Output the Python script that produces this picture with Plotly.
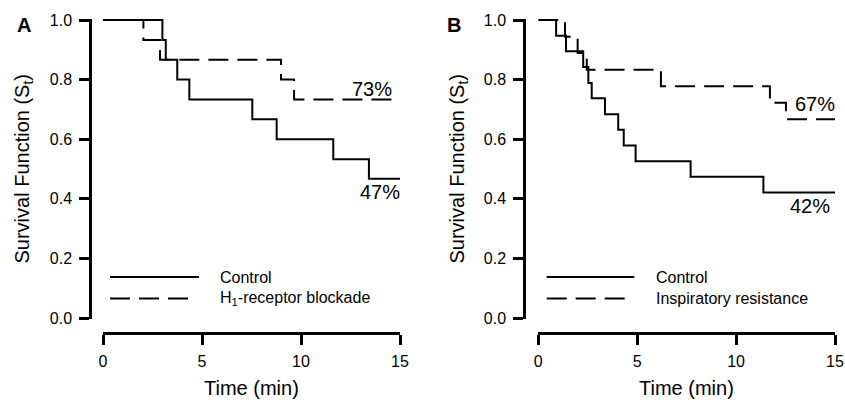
import plotly.graph_objects as go

# ---- data ----
a_ctrl_t = [0, 3.0, 3.17, 3.75, 4.36, 7.54, 8.77, 11.63, 13.43, 15]
a_ctrl_s = [1.0, 0.933, 0.867, 0.800, 0.733, 0.667, 0.600, 0.533, 0.467, 0.467]
a_h1_t = [0, 2.04, 2.88, 8.99, 9.65, 15]
a_h1_s = [1.0, 0.933, 0.867, 0.800, 0.733, 0.733]

b_ctrl_t = [0, 0.90, 1.40, 2.27, 2.53, 2.70, 3.37, 4.04, 4.32, 4.92, 7.70, 11.38, 15]
b_ctrl_s = [1.0, 0.947, 0.895, 0.842, 0.789, 0.737, 0.684, 0.632, 0.579, 0.526, 0.474, 0.421, 0.421]
b_ir_t = [0, 1.35, 1.99, 2.45, 6.20, 11.71, 12.52, 15]
b_ir_s = [1.0, 0.944, 0.889, 0.833, 0.778, 0.722, 0.667, 0.667]

x_ticks = [0, 5, 10, 15]
y_ticks = [0, 0.2, 0.4, 0.6, 0.8, 1.0]
x_title = "Time (min)"
y_title = "Survival Function (S<sub>t</sub>)"
legend_a = ["Control", "H<sub>1</sub>-receptor blockade"]
legend_b = ["Control", "Inspiratory resistance"]
pct_a = [("73%", 13.6, 0.770), ("47%", 13.99, 0.423)]
pct_b = [("67%", 13.99, 0.718), ("42%", 13.75, 0.376)]

W, H = 845, 400
FONT = "Liberation Sans, Arial, sans-serif"
DASH = "20px,9px"


def px(x):
    return x / W


def py(y):
    return 1 - y / H


fig = go.Figure()
fig.add_trace(go.Scatter(x=a_ctrl_t, y=a_ctrl_s, mode="lines", line=dict(shape="hv", color="black", width=2),
                         xaxis="x", yaxis="y", showlegend=False))
fig.add_trace(go.Scatter(x=a_h1_t, y=a_h1_s, mode="lines", line=dict(shape="hv", color="black", width=2, dash=DASH),
                         xaxis="x", yaxis="y", showlegend=False))
fig.add_trace(go.Scatter(x=b_ctrl_t, y=b_ctrl_s, mode="lines", line=dict(shape="hv", color="black", width=2),
                         xaxis="x2", yaxis="y2", showlegend=False))
fig.add_trace(go.Scatter(x=b_ir_t, y=b_ir_s, mode="lines", line=dict(shape="hv", color="black", width=2, dash=DASH),
                         xaxis="x2", yaxis="y2", showlegend=False))

PAD = 0.005
y_top_px, y_bot_px = 20, 318
scale = y_bot_px - y_top_px
ydom = [py(y_bot_px + PAD * scale), py(y_top_px - PAD * scale)]

axis_common = dict(showline=True, linewidth=2.5, linecolor="black", ticks="outside", ticklen=10, tickwidth=2.5,
                   tickcolor="black", showgrid=False, zeroline=False, automargin=False,
                   tickfont=dict(family=FONT, size=16, color="black"))

xa = dict(axis_common, range=[0, 15], tickvals=x_ticks, anchor="free", position=py(333),
          ticklabelstandoff=3)
ya = dict(axis_common, range=[-PAD, 1 + PAD], tickvals=y_ticks, tickformat=".1f", anchor="free", domain=ydom,
          ticklabelstandoff=4)

fig.update_layout(
    width=W, height=H, autosize=False,
    margin=dict(l=0, r=0, t=0, b=0),
    paper_bgcolor="white", plot_bgcolor="white",
    font=dict(family=FONT, color="black"),
    xaxis=dict(xa, domain=[px(103), px(400)]),
    yaxis=dict(ya, position=px(90)),
    xaxis2=dict(xa, domain=[px(538.3), px(835)]),
    yaxis2=dict(ya, position=px(524)),
)

# axis titles
for xc, yc in [(251.5, 388), (686.5, 388)]:
    fig.add_annotation(x=px(xc), y=py(yc), xref="paper", yref="paper", text=x_title, showarrow=False,
                       font=dict(family=FONT, size=20, color="black"), xanchor="center", yanchor="middle")
for xc in [23, 458]:
    fig.add_annotation(x=px(xc), y=py(168.5), xref="paper", yref="paper", text=y_title, showarrow=False,
                       textangle=-90, font=dict(family=FONT, size=20, color="black"),
                       xanchor="center", yanchor="middle")

# panel letters
fig.add_annotation(x=px(24), y=py(25), xref="paper", yref="paper", text="<b>A</b>", showarrow=False,
                   font=dict(family=FONT, size=20, color="black"), xanchor="center", yanchor="middle")
fig.add_annotation(x=px(453.5), y=py(25), xref="paper", yref="paper", text="<b>B</b>", showarrow=False,
                   font=dict(family=FONT, size=20, color="black"), xanchor="center", yanchor="middle")

# percentage labels
for (txt, x, y) in pct_a:
    fig.add_annotation(x=x, y=y, xref="x", yref="y", text=txt, showarrow=False,
                       font=dict(family=FONT, size=20, color="black"), xanchor="center", yanchor="middle")
for (txt, x, y) in pct_b:
    fig.add_annotation(x=x, y=y, xref="x2", yref="y2", text=txt, showarrow=False,
                       font=dict(family=FONT, size=20, color="black"), xanchor="center", yanchor="middle")


# custom legends
def add_legend(x0, x1s, x1d, xt, labels):
    fig.add_shape(type="line", xref="paper", yref="paper", x0=px(x0), x1=px(x1s), y0=py(277), y1=py(277),
                  line=dict(color="black", width=2))
    fig.add_shape(type="line", xref="paper", yref="paper", x0=px(x0), x1=px(x1d), y0=py(298.5), y1=py(298.5),
                  line=dict(color="black", width=2, dash=DASH))
    for lbl, yy in zip(labels, [277, 298.5]):
        fig.add_annotation(x=px(xt), y=py(yy), xref="paper", yref="paper", text=lbl, showarrow=False,
                           font=dict(family=FONT, size=16, color="black"), xanchor="left", yanchor="middle")


add_legend(110, 199, 190, 218, legend_a)
add_legend(546.7, 634.3, 625, 653.5, legend_b)

# remove the default 8px page margin so the 845x400 figure fills the window exactly
fig.write_html("out.html",
               config={"displayModeBar": False},
               post_script="document.body.style.margin='0';document.body.style.overflow='hidden';")
